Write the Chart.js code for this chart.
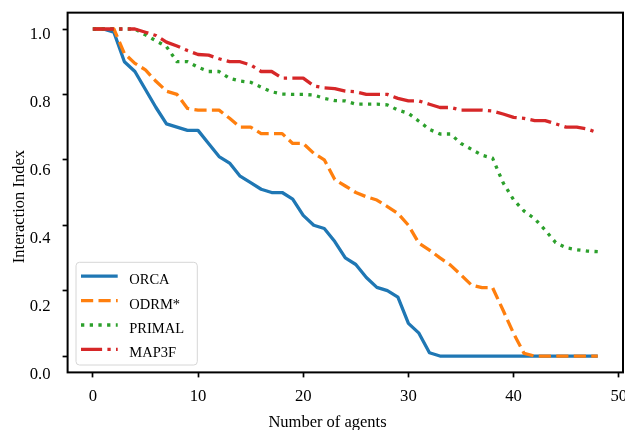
<!DOCTYPE html>
<html><head><meta charset="utf-8">
<script src="https://cdn.jsdelivr.net/npm/chart.js@4.4.0/dist/chart.umd.min.js"></script>
<style>
html,body{margin:0;padding:0;background:#fff;overflow:hidden;width:625px;height:430px}
#wrap{width:640px;height:430px;position:relative}
</style>
</head><body><div id="wrap"><canvas id="c" width="640" height="430"></canvas></div>
<script>
const agents = [0,1,2,3,4,5,6,7,8,9,10,11,12,13,14,15,16,17,18,19,20,21,22,23,24,25,26,27,28,29,30,31,32,33,34,35,36,37,38,39,40,41,42,43,44,45,46,47,48];
const orca = [1.0,1.0,0.99,0.90,0.87,0.815,0.76,0.71,0.70,0.69,0.69,0.65,0.61,0.59,0.55,0.53,0.51,0.50,0.50,0.48,0.43,0.40,0.39,0.35,0.30,0.28,0.24,0.21,0.20,0.18,0.10,0.07,0.01,0,0,0,0,0,0,0,0,0,0,0,0,0,0,0,0];
const odrm = [1.0,1.0,1.0,0.925,0.895,0.875,0.84,0.81,0.80,0.757,0.752,0.752,0.752,0.727,0.70,0.70,0.68,0.68,0.68,0.65,0.65,0.62,0.60,0.54,0.52,0.50,0.487,0.477,0.457,0.436,0.40,0.345,0.324,0.30,0.278,0.248,0.217,0.209,0.209,0.14,0.069,0.008,0,0,0,0,0,0,0];
const primal = [1.0,1.0,1.0,1.0,1.0,0.982,0.964,0.946,0.90,0.90,0.883,0.87,0.87,0.849,0.841,0.837,0.822,0.808,0.801,0.80,0.80,0.798,0.788,0.781,0.78,0.77,0.77,0.77,0.768,0.752,0.742,0.718,0.693,0.679,0.679,0.65,0.632,0.614,0.605,0.53,0.478,0.443,0.42,0.385,0.347,0.331,0.325,0.321,0.319];
const map3f = [1.0,1.0,1.0,1.0,1.0,0.99,0.98,0.96,0.948,0.934,0.922,0.92,0.909,0.90,0.90,0.89,0.87,0.87,0.85,0.85,0.85,0.826,0.82,0.818,0.81,0.808,0.80,0.80,0.80,0.788,0.78,0.78,0.77,0.76,0.76,0.752,0.752,0.752,0.749,0.74,0.73,0.727,0.72,0.72,0.71,0.70,0.70,0.694,0.683];
const seriesNames = ['ORCA','ODRM*','PRIMAL','MAP3F'];
const xTicks = [0,10,20,30,40,50];
const yTicks = [0.0,0.2,0.4,0.6,0.8,1.0];
const xTitle = 'Number of agents';
const yTitle = 'Interaction Index';

const FONT = 'Liberation Serif, "Times New Roman", serif';
const pts = arr => agents.map((a,i)=>({x:a, y:arr[i]}));

const decor = {
  id:'decor',
  afterDraw(chart){
    const {ctx, chartArea:a} = chart;
    ctx.save();
    // spines
    ctx.strokeStyle='#000'; ctx.lineWidth=2; ctx.setLineDash([]);
    ctx.strokeRect(a.left, a.top, a.right-a.left, a.bottom-a.top);
    // legend
    const bw=121.3, bh=102.7, bx=a.left+8.4, by=a.bottom-7.4-bh, r=3.5;
    ctx.beginPath();
    ctx.moveTo(bx+r,by); ctx.lineTo(bx+bw-r,by); ctx.arcTo(bx+bw,by,bx+bw,by+r,r);
    ctx.lineTo(bx+bw,by+bh-r); ctx.arcTo(bx+bw,by+bh,bx+bw-r,by+bh,r);
    ctx.lineTo(bx+r,by+bh); ctx.arcTo(bx,by+bh,bx,by+bh-r,r);
    ctx.lineTo(bx,by+r); ctx.arcTo(bx,by,bx+r,by,r); ctx.closePath();
    ctx.fillStyle='rgba(255,255,255,0.8)'; ctx.fill();
    ctx.strokeStyle='#d6d6d6'; ctx.lineWidth=1; ctx.stroke();
    ctx.font='14.5px '+FONT; ctx.textAlign='left'; ctx.textBaseline='alphabetic';
    chart.data.datasets.forEach((ds,i)=>{
      const ry = by+13.9+24.4*i;
      ctx.beginPath();
      ctx.strokeStyle=ds.borderColor; ctx.lineWidth=ds.borderWidth; ctx.lineCap='butt';
      ctx.setLineDash(ds.borderDash||[]);
      ctx.moveTo(bx+5, ry); ctx.lineTo(bx+41.7, ry); ctx.stroke();
      ctx.setLineDash([]);
      ctx.fillStyle='#000';
      ctx.fillText(ds.label, bx+53.3, ry+8);
    });
    // axis titles
    ctx.font='16.5px '+FONT; ctx.fillStyle='#000'; ctx.textAlign='center'; ctx.textBaseline='alphabetic';
    ctx.fillText(xTitle, (a.left+a.right)/2-17.8, a.bottom+54.1);
    ctx.translate(a.left-43.6, (a.top+a.bottom)/2+14.1);
    ctx.rotate(-Math.PI/2);
    ctx.fillText(yTitle, 0, 0);
    ctx.restore();
  }
};

const common = {fill:false, tension:0, pointRadius:0, borderWidth:3.3, borderCapStyle:'butt', borderJoinStyle:'round'};
new Chart(document.getElementById('c'), {
  type:'line',
  data:{datasets:[
    Object.assign({label:seriesNames[0], data:pts(orca), borderColor:'#1f77b4', borderDash:[], order:4, yAxisID:'y', xAxisID:'x'}, common),
    Object.assign({label:seriesNames[1], data:pts(odrm), borderColor:'#ff7f0e', borderDash:[12.2,5.3], order:3, yAxisID:'y', xAxisID:'x'}, common),
    Object.assign({label:seriesNames[2], data:pts(primal), borderColor:'#2ca02c', borderDash:[3.3,5.4], order:2, yAxisID:'y', xAxisID:'x'}, common),
    Object.assign({label:seriesNames[3], data:pts(map3f), borderColor:'#d62728', borderDash:[21.1,5.3,3.3,5.3], order:1, yAxisID:'y', xAxisID:'x'}, common)
  ]},
  options:{
    responsive:false, animation:false, devicePixelRatio:1,
    layout:{padding:{top:12.65, right:17, bottom:0, left:0}},
    plugins:{legend:{display:false}, tooltip:{enabled:false}, title:{display:false}},
    scales:{
      x:{type:'linear', position:'bottom', min:-2.4, max:50.4,
        afterBuildTicks:s=>{s.ticks = xTicks.map(v=>({value:v}));},
        ticks:{callback:v=>String(v), font:{family:FONT, size:16.7}, color:'#000', padding:9, maxRotation:0, autoSkip:false},
        grid:{drawOnChartArea:false, drawTicks:true, tickLength:5, tickWidth:1.7, tickColor:'#000'},
        border:{display:false},
        afterFit:s=>{s.height=57.6;}
      },
      y:{type:'linear', position:'left', min:-0.05, max:1.05, weight:0,
        afterBuildTicks:s=>{s.ticks = yTicks.map(v=>({value:v}));},
        ticks:{display:false},
        grid:{drawOnChartArea:false, drawTicks:true, tickLength:5, tickWidth:1.7, tickColor:'#000'},
        border:{display:false},
        afterFit:s=>{s.width=17;}
      },
      yl:{type:'linear', position:'left', min:0.0059, max:1.0643, weight:10,
        afterBuildTicks:s=>{s.ticks = yTicks.map(v=>({value:v}));},
        ticks:{callback:v=>v.toFixed(1), font:{family:FONT, size:16.7}, color:'#000', padding:0, autoSkip:false},
        grid:{display:false, drawTicks:false, tickLength:0},
        border:{display:false},
        afterFit:s=>{s.width=50.6;}
      }
    }
  },
  plugins:[decor]
});
</script>
</body></html>
